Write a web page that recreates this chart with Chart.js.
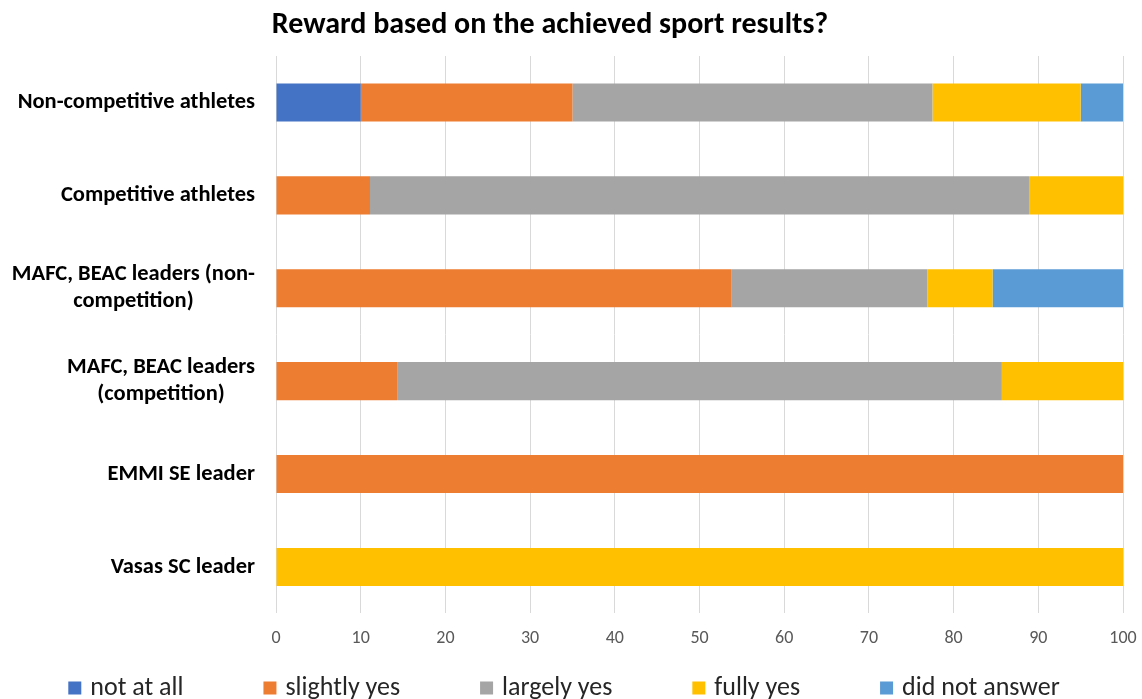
<!DOCTYPE html>
<html lang="en">
<head>
<meta charset="UTF-8">
<title>Reward based on the achieved sport results?</title>
<script src="https://cdn.jsdelivr.net/npm/chart.js"></script>
<style>
  html, body { margin: 0; padding: 0; background: #fff; }
  #wrap { width: 1142px; height: 699px; position: relative; }
</style>
</head>
<body>
<div id="wrap"><canvas id="grafico"></canvas></div>
<script>
const FONT = 'Calibri, Carlito, Lato, sans-serif';
const chartTitle = 'Reward based on the achieved sport results?';

// groups (top to bottom)
const categories = [
    'Non-competitive athletes',
    'Competitive athletes',
    ['MAFC, BEAC leaders (non-', 'competition)'],
    ['MAFC, BEAC leaders', '(competition)'],
    'EMMI SE leader',
    'Vasas SC leader'
];

// answers, % of respondents
const notAtAll     = [10,   0,    0,    0,    0,   0];
const slightlyYes  = [25,   11.1, 53.8, 14.3, 100, 0];
const largelyYes   = [42.5, 77.8, 23.1, 71.4, 0,   0];
const fullyYes     = [17.5, 11.1, 7.7,  14.3, 0,   100];
const didNotAnswer = [5,    0,    15.4, 0,    0,   0];

const xTicks = [0, 10, 20, 30, 40, 50, 60, 70, 80, 90, 100];

// y labels, title and legend are painted by hand so the lines can be centred
const extras = {
    id: 'extras',
    afterDraw(chart) {
        const ctx = chart.ctx;
        const ys = chart.scales.y;
        ctx.save();
        ctx.fillStyle = '#000';
        ctx.textBaseline = 'middle';
        ctx.textAlign = 'center';

        ctx.font = 'bold 30px ' + FONT;
        ctx.fillText(chartTitle, 550, 25);

        ctx.font = 'bold 22.5px ' + FONT;
        categories.forEach(function(lab, i) {
            const lines = Array.isArray(lab) ? lab : [lab];
            const w = Math.max.apply(null, lines.map(l => ctx.measureText(l).width));
            const cx = chart.chartArea.left - 21 - w / 2;
            const cy = ys.getPixelForValue(i);
            lines.forEach(function(l, k) {
                ctx.fillText(l, cx, cy + (k - (lines.length - 1) / 2) * 27);
            });
        });

        // legend
        ctx.font = '26px ' + FONT;
        ctx.textAlign = 'left';
        const sets = chart.data.datasets;
        const gap = 80, box = 13, boxGap = 9;
        let total = 0;
        const widths = sets.map(function(d) {
            const w = box + boxGap + ctx.measureText(d.label).width;
            total += w;
            return w;
        });
        total += gap * (sets.length - 1);
        let x = 564 - total / 2;
        const ly = 688;
        sets.forEach(function(d, i) {
            ctx.fillStyle = d.backgroundColor;
            ctx.fillRect(x, ly - 6.5, box, 13);
            ctx.fillStyle = '#262626';
            ctx.fillText(d.label, x + box + boxGap, ly);
            x += widths[i] + gap;
        });
        ctx.restore();
    }
};

new Chart(document.getElementById('grafico'), {
    type: 'bar',
    data: {
        labels: categories,
        datasets: [
            { label: 'not at all', data: notAtAll, backgroundColor: '#4472C4' },
            { label: 'slightly yes', data: slightlyYes, backgroundColor: '#ED7D31' },
            { label: 'largely yes', data: largelyYes, backgroundColor: '#A5A5A5' },
            { label: 'fully yes', data: fullyYes, backgroundColor: '#FFC000' },
            { label: 'did not answer', data: didNotAnswer, backgroundColor: '#5B9BD5' }
        ]
    },
    plugins: [extras],
    options: {
        indexAxis: 'y',
        responsive: true,
        maintainAspectRatio: false,
        animation: false,
        layout: { padding: { left: 268, right: 19, top: 56, bottom: 36 } },
        datasets: { bar: { barPercentage: 1, categoryPercentage: 0.41 } },
        plugins: {
            legend: { display: false },
            title: { display: false },
            tooltip: { enabled: false }
        },
        scales: {
            x: {
                stacked: true,
                min: 0,
                max: 100,
                afterBuildTicks: function(axis) { axis.ticks = xTicks.map(v => ({ value: v })); },
                afterFit: function(axis) { axis.paddingLeft = 0; axis.paddingRight = 0; },
                grid: { color: '#D9D9D9', drawTicks: false },
                border: { display: false },
                ticks: { color: '#595959', padding: 14, font: { family: FONT, size: 18 } }
            },
            y: {
                stacked: true,
                grid: { display: false },
                border: { display: false },
                ticks: { display: false }
            }
        }
    }
});
</script>
</body>
</html>
